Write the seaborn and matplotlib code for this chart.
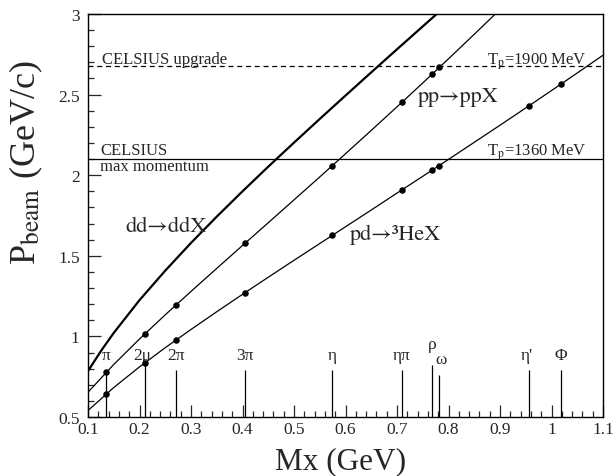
import matplotlib
matplotlib.use("Agg")
import matplotlib.pyplot as plt
from matplotlib.ticker import MultipleLocator, FuncFormatter
import numpy as np
import pandas as pd
import seaborn as sns

# threshold beam momentum curves (Mx in GeV, P in GeV/c)
mx_pp = [0.10, 0.15, 0.20, 0.25, 0.30, 0.35, 0.40, 0.45, 0.50,
         0.55, 0.60, 0.65, 0.70, 0.75, 0.80, 0.85, 0.90]
p_pp = [0.654, 0.826, 0.984, 1.134, 1.279, 1.422, 1.564, 1.705, 1.847,
        1.989, 2.133, 2.278, 2.424, 2.572, 2.722, 2.874, 3.028]

mx_pd = [0.10, 0.15, 0.20, 0.25, 0.30, 0.35, 0.40, 0.45, 0.50, 0.55, 0.60,
         0.65, 0.70, 0.75, 0.80, 0.85, 0.90, 0.95, 1.00, 1.05, 1.10]
p_pd = [0.540, 0.683, 0.811, 0.930, 1.043, 1.153, 1.261, 1.367, 1.472, 1.576, 1.680,
        1.784, 1.889, 1.993, 2.098, 2.204, 2.310, 2.417, 2.525, 2.634, 2.744]

mx_dd = [0.10, 0.125, 0.15, 0.20, 0.25, 0.30, 0.35, 0.40, 0.45,
         0.50, 0.55, 0.60, 0.65, 0.70, 0.75, 0.80]
p_dd = [0.785, 0.909, 1.022, 1.225, 1.408, 1.580, 1.743, 1.900, 2.053,
        2.202, 2.349, 2.494, 2.638, 2.781, 2.923, 3.065]

# meson / final states
states = ["π", "2μ", "2π", "3π", "η", "ηπ", "ρ", "ω", "η'", "Φ"]
state_mx = [0.135, 0.211, 0.270, 0.405, 0.574, 0.709, 0.768, 0.782, 0.957, 1.019]
state_top = [0.79, 0.84, 0.79, 0.79, 0.79, 0.79, 0.82, 0.76, 0.79, 0.79]

# dots where the states sit on the curves
pp_dot_p = [0.777, 1.017, 1.192, 1.578, 2.058, 2.451, 2.626, 2.668]
pd_dot_p = [0.642, 0.838, 0.976, 1.272, 1.626, 1.907, 2.031, 2.060, 2.432, 2.567]

# CELSIUS beam limits
p_max = 2.098      # Tp = 1360 MeV
p_upgrade = 2.679  # Tp = 1900 MeV

sns.set_style("ticks")
plt.rcParams["font.family"] = ["Liberation Serif", "STIXGeneral", "DejaVu Serif"]
plt.rcParams["mathtext.fontset"] = "stix"

fig = plt.figure(figsize=(6.13, 4.77), dpi=100)
ax = fig.add_axes([0.1436, 0.1237, 0.8401, 0.8449])

curves = pd.concat([
    pd.DataFrame({"mx": mx_pp, "p": p_pp, "reaction": "pp"}),
    pd.DataFrame({"mx": mx_pd, "p": p_pd, "reaction": "pd"}),
])
sns.lineplot(data=curves, x="mx", y="p", units="reaction", estimator=None,
             sort=False, color="black", lw=0.9, legend=False, ax=ax)
sns.lineplot(x=mx_dd, y=p_dd, sort=False, estimator=None, color="black",
             lw=1.6, ax=ax)

ax.vlines(state_mx, 0.5, state_top, color="black", lw=0.9)

sns.scatterplot(x=state_mx[:len(pp_dot_p)], y=pp_dot_p, color="black", s=22,
                linewidth=0, zorder=5, ax=ax)
sns.scatterplot(x=state_mx, y=pd_dot_p, color="black", s=22,
                linewidth=0, zorder=5, ax=ax)

ax.axhline(p_max, color="black", lw=0.9)
ax.axhline(p_upgrade, color="black", lw=0.9, ls=(0, (4, 3)))

# state labels
for name, x in zip(states, state_mx):
    lx, ly = x, 0.885
    if name == "ρ":
        ly = 0.95
    elif name == "ω":
        lx, ly = x + 0.004, 0.86
    elif name == "η'":
        lx = x - 0.004
    elif name == "2μ":
        lx = x - 0.006
    ax.text(lx, ly, name, ha="center", va="center", fontsize=12.5)

ax.text(0.128, 2.697, "CELSIUS upgrade", fontsize=12, va="baseline")
ax.text(0.124, 2.13, "CELSIUS", fontsize=12, va="baseline")
ax.text(0.124, 2.03, "max momentum", fontsize=12, va="baseline")
ax.text(0.874, 2.69, r"T$_\mathrm{p}$=1900 MeV", fontsize=12, va="baseline")
ax.text(0.874, 2.13, r"T$_\mathrm{p}$=1360 MeV", fontsize=12, va="baseline")

# reaction labels, STIX has a tight arrow glyph
stix = ["STIXGeneral", "DejaVu Serif"]
ax.text(0.741, 2.46, "pp→ppX", fontsize=16, va="baseline", family=stix)
ax.text(0.172, 1.656, "dd→ddX", fontsize=16, va="baseline", family=stix)
ax.text(0.609, 1.604, "pd→³HeX", fontsize=16, va="baseline", family=stix)

ax.set_xlim(0.1, 1.1)
ax.set_ylim(0.5, 3.0)
ax.xaxis.set_major_locator(MultipleLocator(0.1))
ax.xaxis.set_minor_locator(MultipleLocator(0.02))
ax.yaxis.set_major_locator(MultipleLocator(0.5))
ax.yaxis.set_minor_locator(MultipleLocator(0.1))
fmt = FuncFormatter(lambda v, pos: "%g" % round(v, 2))
ax.xaxis.set_major_formatter(fmt)
ax.yaxis.set_major_formatter(fmt)
ax.tick_params(which="both", direction="in", top=False, right=False,
               labelsize=12.5, width=0.9)
ax.tick_params(axis="x", which="major", length=9, pad=3)
ax.tick_params(axis="y", which="major", length=9, pad=6)
ax.tick_params(which="minor", length=4.5)
for s in ax.spines.values():
    s.set_linewidth(1.0)
    s.set_color("black")

ax.set_xlabel("Mx (GeV)", fontsize=22.5)
ax.set_ylabel(r"P$_{\mathrm{beam}}$ (GeV/c)", fontsize=26)
ax.xaxis.label.set_va("baseline")
ax.xaxis.set_label_coords(0.49, -0.128)
ax.yaxis.set_label_coords(-0.083, 0.633)

fig.savefig("out.png", dpi=100)
